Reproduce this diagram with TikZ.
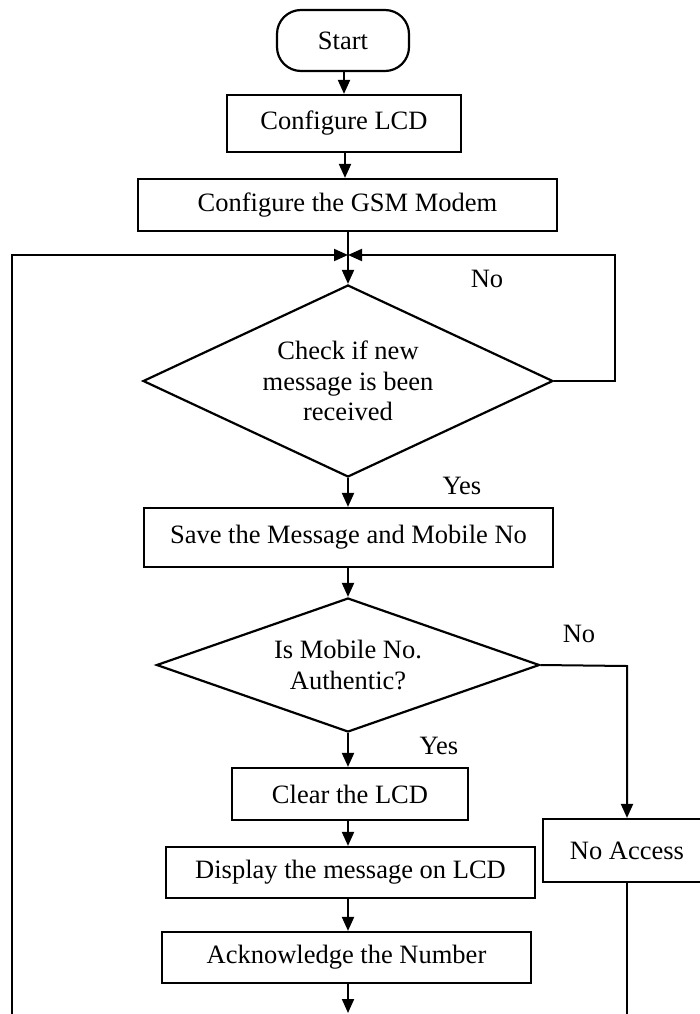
\documentclass[tikz,border=0pt]{standalone}
\usepackage{fontspec}
\setmainfont{Liberation Serif}
\usetikzlibrary{shapes.geometric,arrows.meta}
\begin{document}
\begin{tikzpicture}[x=1pt,y=-1pt,
 every node/.style={font=\fontsize{26.5}{30.5}\selectfont},
 box/.style={draw,line width=2.2pt,rectangle,inner sep=0pt,align=center},
 dec/.style={draw,line width=2.2pt,diamond,inner sep=0pt,align=center},
 lbl/.style={inner sep=0pt},
 conn/.style={line width=2pt},
 arr/.style={conn,-{Triangle[length=14pt,width=12pt]}}]
\useasboundingbox (0,0) rectangle (699,1014);
\coordinate (J) at (348,255);
\node[box,rounded corners=24pt,minimum width=132pt,minimum height=61pt] (start) at (343,40.5) {Start};
\node[box,minimum width=234pt,minimum height=57pt] (lcd) at (344,123.5) {Configure LCD};
\node[box,minimum width=419pt,minimum height=52pt] (gsm) at (347.5,205) {Configure the GSM Modem};
\node[dec,aspect=2.14,minimum width=410pt,minimum height=192pt] (d1) at (348,381) {Check if new\\message is been\\received};
\node[box,minimum width=409pt,minimum height=59pt] (save) at (348.5,537.5) {Save the Message and Mobile No};
\node[dec,aspect=2.85,minimum width=383pt,minimum height=134pt] (d2) at (348,665) {Is Mobile No.\\Authentic?};
\node[box,minimum width=236pt,minimum height=52pt] (clear) at (350,794) {Clear the LCD};
\node[box,minimum width=369pt,minimum height=51pt] (disp) at (350.5,872.5) {Display the message on LCD};
\node[box,minimum width=369pt,minimum height=51pt] (ack) at (346.5,957.5) {Acknowledge the Number};
\node[box,minimum width=168pt,minimum height=63pt] (noacc) at (627,850.5) {No Access};
\node[lbl] (no1) at (487,279) {No};
\node[lbl] (yes1) at (462,486) {Yes};
\node[lbl] (no2) at (579,634) {No};
\node[lbl] (yes2) at (439,746) {Yes};
\coordinate (BL) at (12,1014);
\coordinate (R1) at (615,381);
\coordinate (R2) at (627,666);
\coordinate (B) at (348,1013);
\coordinate (BR) at (627,1014);
\draw[arr] (start.south -| 344,0) -- (lcd.north -| 344,0);
\draw[arr] (lcd.south -| 345,0) -- (gsm.north -| 345,0);
\draw[arr] (gsm.south -| J) -- (d1.north);
\draw[arr] (BL) -- (BL |- J) -- (J);
\draw[arr] (d1.east) -- (R1) -- (R1 |- J) -- (J);
\draw[arr] (d1.south) -- (save.north -| J);
\draw[arr] (save.south -| J) -- (d2.north);
\draw[arr] (d2.south) -- (clear.north -| J);
\draw[arr] (clear.south -| J) -- (disp.north -| J);
\draw[arr] (disp.south -| J) -- (ack.north -| J);
\draw[arr] (ack.south -| J) -- (B);
\draw[arr] (d2.east) -- (R2) -- (noacc.north);
\draw[conn] (noacc.south) -- (BR);
\end{tikzpicture}
\end{document}
